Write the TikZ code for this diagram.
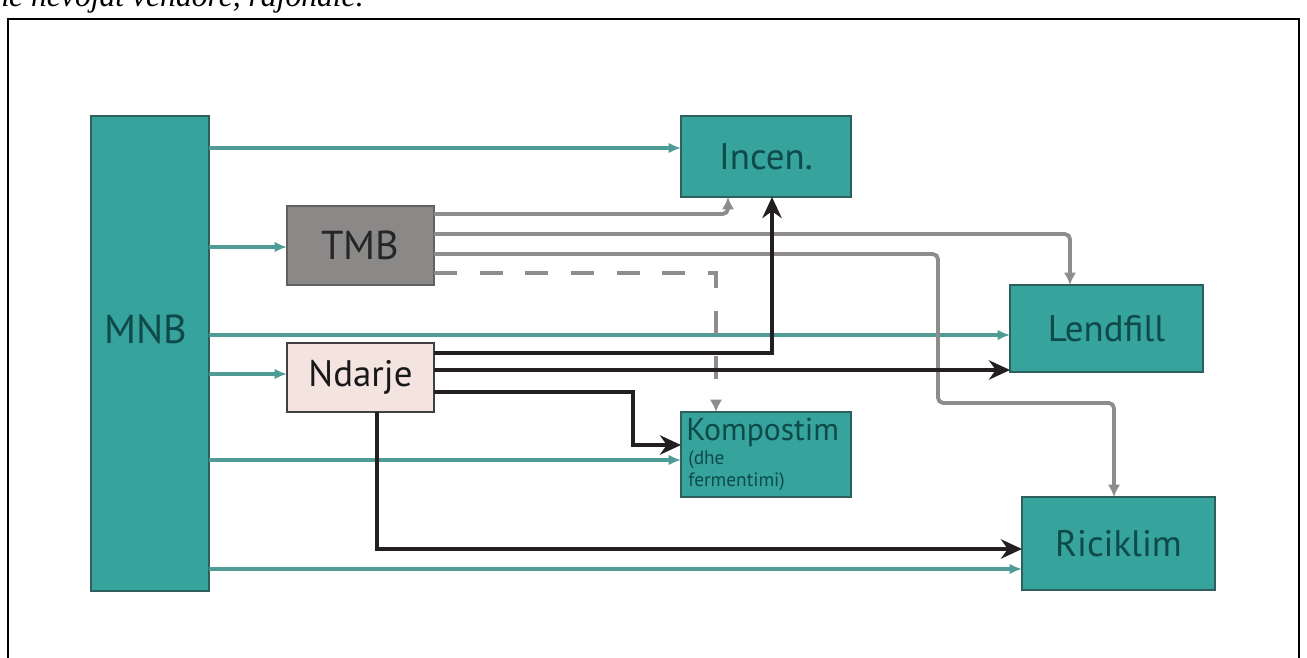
\documentclass[tikz,border=0pt]{standalone}
\usepackage{fontspec}
\newfontfamily\diagfont{PT Sans}
\newfontfamily\topfont{Liberation Serif}
\usetikzlibrary{arrows.meta}
\definecolor{tealfill}{HTML}{37A39D}
\definecolor{tealborder}{HTML}{2E5F5C}
\definecolor{tealline}{HTML}{4E9C95}
\definecolor{tealtext}{HTML}{0D4A49}
\definecolor{graybox}{HTML}{8B8888}
\definecolor{grayline}{HTML}{8F8C8C}
\definecolor{pinkbox}{HTML}{F4E4E0}
\definecolor{darkline}{HTML}{231F20}
\tikzset{
  box/.style={draw=tealborder, line width=1.3pt, fill=tealfill, inner sep=0pt, outer sep=0pt,
    font=\diagfont\fontsize{21}{24}\selectfont, text=tealtext},
  bigtext/.style={font=\diagfont\fontsize{23}{26}\selectfont},
  tealarrow/.style={draw=tealline, line width=2pt, -{Latex[length=7pt,width=6pt]}},
  grayarrow/.style={draw=grayline, line width=2.2pt, rounded corners=3pt, -{Latex[length=7pt,width=7pt]}},
  darkarrow/.style={draw=darkline, line width=2.8pt, -{Stealth[length=12pt,width=11pt]}},
  dasharrow/.style={draw=grayline, line width=2.2pt, dash pattern=on 13pt off 13pt, -{Latex[length=7pt,width=7pt]}}
}
\begin{document}
\begin{tikzpicture}[x=0.02cm, y=-0.02cm]
\useasboundingbox (0,0) rectangle (1307,658);
\fill[white] (0,0) rectangle (1307,658);
% cropped top text line
\node[anchor=base west, inner sep=0pt, font=\topfont\itshape\fontsize{18}{20}\selectfont] (toptext) at (-7,7) {në nevojat vendore, rajonale.};
% frame
\draw[line width=1.1pt] (8,700) -- (8,19) -- (1299,19) -- (1299,700);
% nodes
\node[box, minimum width=2.36cm, minimum height=9.5cm] (MNB) at (150,353.5) {};
\node[bigtext, text=tealtext, inner sep=0pt] (MNBt) at (146,329) {MNB};
\node[box, minimum width=3.4cm, minimum height=1.62cm] (Incen) at (766,156.5) {Incen.};
\node[box, bigtext, fill=graybox, draw=graybox!70!black, text=black!85, minimum width=2.94cm, minimum height=1.58cm] (TMB) at (360.5,245.5) {TMB};
\node[box, fill=pinkbox, draw=black!75, text=black!90, minimum width=2.94cm, minimum height=1.38cm] (Ndarje) at (360.5,377.5) {Ndarje};
\node[box, minimum width=3.86cm, minimum height=1.74cm] (Lendfill) at (1106.5,328.5) {Lendfill};
\node[box, minimum width=3.4cm, minimum height=1.7cm] (Kompostim) at (766,454.5) {};
\node[anchor=base west, inner sep=0pt, text=tealtext, font=\diagfont\fontsize{18}{18}\selectfont] (Kompt) at (686,440) {Kompostim};
\node[anchor=base west, inner sep=0pt, text=tealtext, font=\diagfont\fontsize{11}{12}\selectfont] (Kompt2) at (688,464) {(dhe};
\node[anchor=base west, inner sep=0pt, text=tealtext, font=\diagfont\fontsize{11}{12}\selectfont] (Kompt3) at (688,486) {fermentimi)};
\node[box, minimum width=3.86cm, minimum height=1.86cm] (Riciklim) at (1118.5,543.5) {Riciklim};
% level coordinates
\coordinate (y148) at (0,148);
\coordinate (y247) at (0,247);
\coordinate (y335) at (0,335);
\coordinate (y374) at (0,374);
\coordinate (y460) at (0,460);
\coordinate (y567) at (0,569);
\coordinate (y214) at (0,214);
\coordinate (y234) at (0,234);
\coordinate (y254) at (0,254);
\coordinate (y273) at (0,273);
\coordinate (y353) at (0,353);
\coordinate (y370) at (0,370);
\coordinate (y392) at (0,392);
\coordinate (y549) at (0,549);
\coordinate (x728) at (728,0);
\coordinate (x1070) at (1070,0);
\coordinate (x716) at (716,0);
\coordinate (x772) at (772,0);
\coordinate (x1114) at (1114,0);
\coordinate (x377) at (377,0);
\coordinate (bend1) at (938,254);
\coordinate (bend2) at (938,403);
\coordinate (bend3) at (1114,403);
\coordinate (kbend1) at (633,392);
\coordinate (kbend2) at (633,445);
% teal arrows from MNB
\draw[tealarrow] (MNB.east |- y148) -- (Incen.west |- y148);
\draw[tealarrow] (MNB.east |- y247) -- (TMB.west |- y247);
\draw[tealarrow] (MNB.east |- y335) -- (Lendfill.west |- y335);
\draw[tealarrow] (MNB.east |- y374) -- (Ndarje.west |- y374);
\draw[tealarrow] (MNB.east |- y460) -- (Kompostim.west |- y460);
\draw[tealarrow] (MNB.east |- y567) -- (Riciklim.west |- y567);
% gray arrows from TMB
\draw[grayarrow] (TMB.east |- y214) -- (x728 |- y214) -- (x728 |- Incen.south);
\draw[grayarrow] (TMB.east |- y234) -- (x1070 |- y234) -- (x1070 |- Lendfill.north);
\draw[grayarrow] (TMB.east |- y254) -- (bend1) -- (bend2) -- (bend3) -- (x1114 |- Riciklim.north);
\draw[dasharrow] (TMB.east |- y273) -- (x716 |- y273) -- (x716 |- Kompostim.north);
% dark arrows from Ndarje
\draw[darkarrow] (Ndarje.east |- y353) -- (x772 |- y353) -- (x772 |- Incen.south);
\draw[darkarrow] (Ndarje.east |- y370) -- (Lendfill.west |- y370);
\draw[darkarrow] (Ndarje.east |- y392) -- (kbend1) -- (kbend2) -- (Kompostim.west |- kbend2);
\draw[darkarrow] (x377 |- Ndarje.south) -- (x377 |- y549) -- (Riciklim.west |- y549);
\end{tikzpicture}
\end{document}
